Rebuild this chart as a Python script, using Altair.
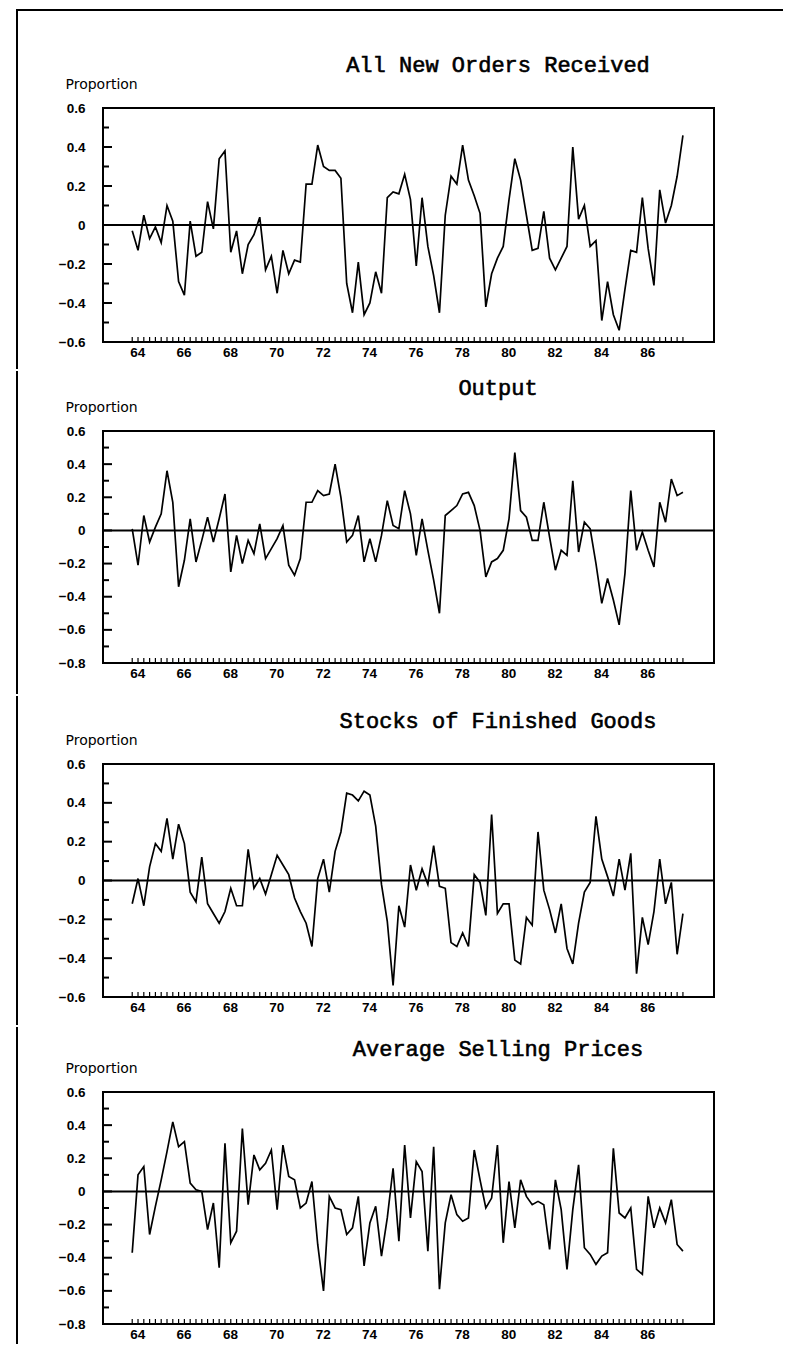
import altair as alt
import pandas as pd

# ---------------- data ----------------
titles = ["All New Orders Received", "Output",
          "Stocks of Finished Goods", "Average Selling Prices"]

# quarterly observations 1964 Q1 .. 1987 Q4 (axis in two-digit years)
quarters = [64 + i / 4 for i in range(96)]

new_orders = [
    -0.03, -0.13, 0.05, -0.07, -0.01, -0.09, 0.10, 0.02, -0.29, -0.36,
    0.02, -0.16, -0.14, 0.12, -0.02, 0.34, 0.38, -0.14, -0.03, -0.25,
    -0.10, -0.05, 0.04, -0.23, -0.16, -0.35, -0.13, -0.25, -0.18, -0.19,
    0.21, 0.21, 0.41, 0.30, 0.28, 0.28, 0.24, -0.30, -0.45, -0.19,
    -0.46, -0.40, -0.24, -0.35, 0.14, 0.17, 0.16, 0.26, 0.13, -0.21,
    0.14, -0.11, -0.26, -0.45, 0.05, 0.25, 0.21, 0.41, 0.23, 0.15,
    0.06, -0.42, -0.25, -0.17, -0.11, 0.13, 0.34, 0.23, 0.05, -0.13,
    -0.12, 0.07, -0.17, -0.23, -0.17, -0.11, 0.40, 0.03, 0.10, -0.11,
    -0.08, -0.49, -0.29, -0.46, -0.54, -0.33, -0.13, -0.14, 0.14, -0.12,
    -0.31, 0.18, 0.01, 0.10, 0.25, 0.46,
]

output = [
    0.01, -0.21, 0.09, -0.07, 0.02, 0.10, 0.36, 0.17, -0.34, -0.18,
    0.07, -0.19, -0.06, 0.08, -0.07, 0.07, 0.22, -0.25, -0.03, -0.20,
    -0.06, -0.14, 0.04, -0.17, -0.11, -0.05, 0.03, -0.21, -0.27, -0.17,
    0.17, 0.17, 0.24, 0.21, 0.22, 0.40, 0.20, -0.07, -0.03, 0.09,
    -0.19, -0.05, -0.19, -0.03, 0.18, 0.03, 0.01, 0.24, 0.10, -0.15,
    0.07, -0.12, -0.30, -0.50, 0.09, 0.12, 0.15, 0.22, 0.23, 0.15,
    0.00, -0.28, -0.19, -0.17, -0.12, 0.07, 0.47, 0.12, 0.08, -0.06,
    -0.06, 0.17, -0.04, -0.24, -0.12, -0.15, 0.30, -0.13, 0.05, 0.01,
    -0.20, -0.44, -0.29, -0.42, -0.57, -0.26, 0.24, -0.12, -0.01, -0.12,
    -0.22, 0.17, 0.05, 0.31, 0.21, 0.23,
]

stocks = [
    -0.12, 0.01, -0.13, 0.07, 0.19, 0.15, 0.32, 0.11, 0.29, 0.19,
    -0.06, -0.11, 0.12, -0.12, -0.17, -0.22, -0.16, -0.04, -0.13, -0.13,
    0.16, -0.04, 0.01, -0.07, 0.03, 0.13, 0.08, 0.03, -0.09, -0.16,
    -0.22, -0.34, 0.01, 0.11, -0.06, 0.15, 0.25, 0.45, 0.44, 0.41,
    0.46, 0.44, 0.28, -0.02, -0.21, -0.54, -0.13, -0.24, 0.08, -0.05,
    0.06, -0.02, 0.18, -0.03, -0.04, -0.32, -0.34, -0.27, -0.34, 0.03,
    -0.01, -0.18, 0.34, -0.17, -0.12, -0.12, -0.41, -0.43, -0.19, -0.23,
    0.25, -0.05, -0.15, -0.27, -0.12, -0.35, -0.43, -0.22, -0.06, -0.01,
    0.33, 0.11, 0.02, -0.08, 0.11, -0.05, 0.14, -0.48, -0.19, -0.33,
    -0.16, 0.11, -0.12, -0.01, -0.38, -0.17,
]

prices = [
    -0.37, 0.10, 0.15, -0.26, -0.09, 0.07, 0.24, 0.42, 0.27, 0.30,
    0.05, 0.01, 0.00, -0.23, -0.07, -0.46, 0.29, -0.31, -0.24, 0.38,
    -0.08, 0.22, 0.13, 0.17, 0.25, -0.11, 0.28, 0.09, 0.07, -0.10,
    -0.07, 0.06, -0.32, -0.60, -0.03, -0.10, -0.11, -0.26, -0.22, -0.03,
    -0.45, -0.19, -0.09, -0.39, -0.16, 0.14, -0.30, 0.28, -0.16, 0.18,
    0.12, -0.36, 0.27, -0.59, -0.19, -0.02, -0.14, -0.18, -0.16, 0.25,
    0.07, -0.10, -0.04, 0.28, -0.31, 0.06, -0.22, 0.07, -0.03, -0.08,
    -0.06, -0.08, -0.35, 0.07, -0.11, -0.47, -0.11, 0.16, -0.34, -0.38,
    -0.44, -0.39, -0.37, 0.26, -0.13, -0.16, -0.10, -0.47, -0.50, -0.03,
    -0.22, -0.10, -0.19, -0.05, -0.32, -0.36,
]

series = [new_orders, output, stocks, prices]
y_domains = [(-0.6, 0.6), (-0.8, 0.6), (-0.6, 0.6), (-0.8, 0.6)]
x_labels = [64, 66, 68, 70, 72, 74, 76, 78, 80, 82, 84, 86]

# ---------------- layout (page pixels) ----------------
FRAME_LEFT = 103
FRAME_TOPS = [108, 431, 764, 1092]
FRAME_H = [234, 232, 233, 232]
SEGS = [8, 370, 695, 1026, 1345]   # page rows where the panels' bounds meet
BORDER_X0, BORDER_X1 = 16, 18       # left page border (filled strip)
TOP_LINE_END = 783
W = 611
X_DOMAIN = [62.74, 89.09]
BPAD = 1        # vega pads rect bounds by 1px on every side

TICK_FONT = "Liberation Sans"
one = pd.DataFrame({"k": [0]})


def panel(k):
    lo, hi = y_domains[k]
    T = FRAME_TOPS[k]
    H = FRAME_H[k]
    xs = alt.Scale(domain=X_DOMAIN, nice=False, zero=False)
    ys = alt.Scale(domain=[lo, hi], nice=False, zero=False)

    steps = [round(lo + j * 0.1, 1) for j in range(int(round((hi - lo) / 0.1)) + 1)]
    majors = [v for v in steps if abs(round(v * 10)) % 2 == 0]
    inner_major = [v for v in majors if lo < v < hi]
    inner_minor = [v for v in steps if v not in majors and lo < v < hi]

    x_axis = alt.Axis(
        values=x_labels, format="d", title=None, ticks=False, domain=False,
        grid=False, labelPadding=3, labelOffset=5, labelFlush=False,
        labelFont=TICK_FONT, labelFontSize=13.5, labelFontWeight="bold",
        labelColor="black")
    y_axis = alt.Axis(
        values=majors, format="~g", ticks=False, domain=False, grid=False,
        labelPadding=18, labelFlush=False,
        labelFont=TICK_FONT, labelFontSize=13.5, labelFontWeight="bold",
        labelColor="black",
        title="Proportion", titleAngle=0, titleAlign="left",
        titleBaseline="alphabetic", titleX=-38, titleY=-20,
        titleFont="DejaVu Sans", titleFontSize=14,
        titleFontWeight="normal", titleColor="black")

    X = lambda: alt.X("t:Q", scale=xs, axis=x_axis)
    Y = lambda: alt.Y("v:Q", scale=ys, axis=y_axis)

    df = pd.DataFrame({"t": quarters, "v": series[k]})

    line = alt.Chart(df).mark_line(color="black", strokeWidth=1.7).encode(
        x=X(), y=Y())

    zero = alt.Chart(pd.DataFrame({"v": [0.0]})).mark_rule(
        color="black", strokeWidth=2).encode(y=Y())

    ytick_major = alt.Chart(pd.DataFrame({"v": inner_major})).mark_rule(
        color="black", strokeWidth=2).encode(
        y=Y(), x=alt.value(0), x2=alt.value(9))

    ytick_minor = alt.Chart(pd.DataFrame({"v": inner_minor})).mark_rule(
        color="black", strokeWidth=2).encode(
        y=Y(), x=alt.value(0), x2=alt.value(6))

    xticks = alt.Chart(pd.DataFrame({"t": quarters})).mark_rule(
        color="black", strokeWidth=1.2).encode(
        x=X(), y=alt.value(H - 5), y2=alt.value(H))

    # page border: left strip, one segment per panel
    vborder = alt.Chart(one).mark_rect(color="black", strokeWidth=0).encode(
        x=alt.value(BORDER_X0 - FRAME_LEFT), x2=alt.value(BORDER_X1 - FRAME_LEFT),
        y=alt.value(SEGS[k] + BPAD - T), y2=alt.value(SEGS[k + 1] - BPAD - T))

    title = alt.Chart(pd.DataFrame({"title": [titles[k]]})).mark_text(
        font="Liberation Mono", fontSize=22, fontWeight="normal",
        align="center", baseline="alphabetic", color="black",
        stroke="black", strokeWidth=0.6).encode(
        text="title:N", x=alt.value(395), y=alt.value(-36))

    layers = [line, zero, ytick_major, ytick_minor, xticks, vborder, title]
    if k == 0:
        hborder = alt.Chart(one).mark_rect(color="black", strokeWidth=0).encode(
            x=alt.value(BORDER_X0 - FRAME_LEFT),
            x2=alt.value(TOP_LINE_END - FRAME_LEFT),
            y=alt.value(SEGS[0] + BPAD - T), y2=alt.value(SEGS[0] + BPAD + 2 - T))
        layers.append(hborder)

    return alt.layer(*layers).properties(width=W, height=H)


chart = alt.vconcat(*[panel(k) for k in range(4)], spacing=0).properties(
    padding={"left": BORDER_X0 - BPAD - 8, "top": SEGS[0] - 8,
             "right": 0, "bottom": 0},
    background="white",
).configure_view(stroke="black", strokeWidth=2)

chart.save("out.html", embed_options={"renderer": "svg", "actions": False})
